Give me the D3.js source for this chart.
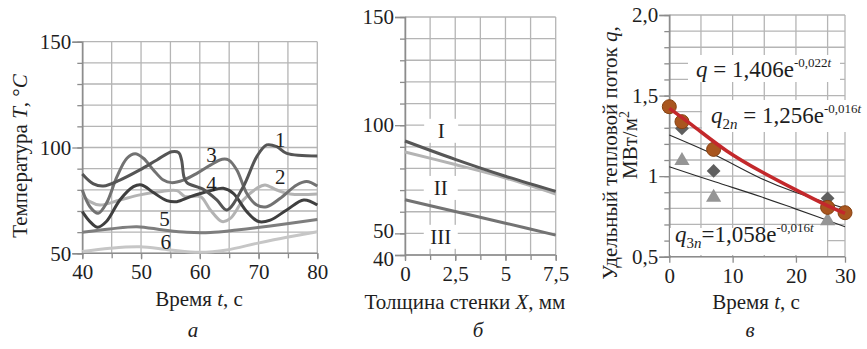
<!DOCTYPE html>
<html>
<head>
<meta charset="utf-8">
<script src="https://cdn.jsdelivr.net/npm/d3@7"></script>
<style>
  body { margin: 0; background: #fff; }
  svg text { font-family: "Liberation Serif", "Times New Roman", serif; fill: #1e1e1e; }
</style>
</head>
<body>
<svg id="chart" width="867" height="349"></svg>
<script>
// ---- panel а : temperature vs time, six curves ----
const line1 = [[40,87.5],[41.9,82.8],[43.6,81.8],[46.4,84.6],[49.8,89.4],[52.7,94.1],[55.2,98],[56.4,97.6],[56.9,94],[57.3,86.2],[57.8,83.4],[60.6,80.2],[62.9,75.2],[64.6,70.5],[67.4,81.5],[69.7,95.7],[71.4,101.2],[73.1,100.4],[74.8,97.2],[80,96]];
const line2 = [[40,77.6],[41.3,74.4],[43,72.8],[46.4,75.2],[49.8,77.6],[53.2,79.1],[56.1,79.6],[57.5,76.8],[60.1,76.8],[61.8,70.5],[63.8,65],[65.2,66.5],[67.4,75.2],[69.7,80.7],[71.1,82.3],[73.1,79.9],[75.4,78],[80,78]];
const line3 = [[40,79.9],[41.3,72],[42.7,68.9],[44.1,73.6],[45.9,86.2],[47.6,94.9],[49,97],[50.4,94.9],[52.1,89.4],[53.8,84.6],[55.2,83.4],[57.2,84.6],[59.5,87.8],[61.8,91.7],[63.8,94.4],[64.9,94.1],[66.3,89.4],[68,78.3],[69.7,72.8],[71.4,72],[73.7,76],[76.5,82.3],[78.2,83.9],[80,81.8]];
const line4 = [[40,69.7],[41.3,65],[42.6,62.3],[44.1,65],[46.4,75.2],[48.7,81.5],[50.1,82.3],[52.1,78.7],[54.4,74.9],[56.1,74.4],[58.4,76.8],[61.8,79.6],[64,80.7],[65.7,78.3],[68,69.7],[70,65],[72,65.7],[74.8,70.5],[77.7,75.2],[80,72.8]];
const line5 = [[40,59.9],[44.7,61.5],[49.3,62.6],[53.8,61],[57.8,59.9],[61.8,59.8],[66.3,61],[72,62.9],[80,66]];
const line6 = [[40,50.8],[44.7,52.4],[49.8,53.1],[54.9,51.6],[60,50.5],[64.6,51.6],[69.7,54.7],[74.8,57.6],[80,60.2]];
const labelsA = ['1', '2', '3', '4', '5', '6'];
const xTicksA = [40, 50, 60, 70, 80];
const yTicksA = [50, 100, 150];

// ---- panel б : temperature across wall ----
const wallX = [0, 2.5, 5, 7.5];
const tempI = [92.7, 84.2, 76.4, 69.4];
const tempII = [87.6, 81.8, 75.6, 68.2];
const tempIII = [65.5, 60.1, 54.7, 49.2];
const labelsB = ['I', 'II', 'III'];
const xTicksB = [0, 2.5, 5, 7.5];
const xTickTextB = ['0', '2,5', '5', '7,5'];
const yTicksB = [40, 50, 100, 150];

// ---- panel в : heat flux vs time ----
const measT = [0, 2, 7, 25, 30];
const measQ = [1.431, 1.338, 1.166, 0.806, 0.773];
const sideT = [2, 7, 25];
const diamondQ = [1.296, 1.032, 0.862];
const triangleQ = [1.096, 0.868, 0.723];
const fitT = [0, 4, 9, 14.5, 20, 25, 30];
const fitQ = [1.421, 1.307, 1.151, 1.027, 0.914, 0.814, 0.769];
const fitNT = [0, 7.2, 14.5, 19.7, 30];
const fit2Q = [1.255, 1.131, 0.986, 0.903, 0.80];
const fit3Q = [1.058, 0.965, 0.872, 0.80, 0.686];
const xTicksC = [0, 10, 20, 30];
const yTicksC = [0.5, 1, 1.5, 2.0];
const yTickTextC = ['0,5', '1', '1,5', '2,0'];

const svg = d3.select('#chart');
const FS = 21;
const gridColor = '#b5b5b5';
const axisColor = '#8c8c8c';

function grid(g, x, y, xs, ys) {
  const [yb, yt] = y.range();
  const [xl, xr] = [x.range()[0], x.range()[x.range().length - 1]];
  g.append('g').selectAll('line').data(xs).join('line')
    .attr('x1', d => x(d)).attr('x2', d => x(d)).attr('y1', yb).attr('y2', yt)
    .attr('stroke', gridColor).attr('stroke-width', 1.3);
  g.append('g').selectAll('line').data(ys).join('line')
    .attr('y1', d => y(d)).attr('y2', d => y(d)).attr('x1', xl).attr('x2', xr)
    .attr('stroke', gridColor).attr('stroke-width', 1.3);
}

function axes(g, x, y, o) {
  const [yb] = y.range();
  const xl = x.range()[0];
  // minor ticks
  g.append('g').attr('transform', `translate(0,${yb})`)
    .call(d3.axisBottom(x).tickValues(o.xMinor).tickSize(5).tickFormat(''))
    .call(s => s.select('.domain').remove());
  g.append('g').attr('transform', `translate(${xl},0)`)
    .call(d3.axisLeft(y).tickValues(o.yMinor).tickSize(5).tickFormat(''))
    .call(s => s.select('.domain').remove());
  // labelled
  g.append('g').attr('transform', `translate(0,${yb})`)
    .call(d3.axisBottom(x).tickValues(o.xTicks).tickSize(6).tickPadding(5).tickFormat(o.xFmt))
    .call(s => s.select('.domain').remove());
  g.append('g').attr('transform', `translate(${xl},0)`)
    .call(d3.axisLeft(y).tickValues(o.yTicks).tickSize(10).tickPadding(1).tickFormat(o.yFmt))
    .call(s => s.select('.domain').attr('stroke', axisColor).attr('stroke-width', 1.5));
  g.selectAll('.tick line').attr('stroke', axisColor).attr('stroke-width', 1.3);
  g.selectAll('.tick text').attr('font-size', FS).attr('font-family', null).attr('fill', '#1e1e1e');
  g.append('line').attr('x1', xl).attr('x2', x.range()[x.range().length - 1])
    .attr('y1', yb).attr('y2', yb).attr('stroke', axisColor).attr('stroke-width', 1.5);
}

function rich(g, x, y, parts, size) {
  const t = g.append('text').attr('x', x).attr('y', y).attr('font-size', size);
  parts.forEach(p => {
    const s = t.append('tspan').text(p.t);
    if (p.i) s.attr('font-style', 'italic');
    if (p.dy) s.attr('dy', p.dy);
    if (p.fs) s.attr('font-size', p.fs);
  });
  return t;
}

// ================= panel а =================
{
  const g = svg.append('g');
  const x = d3.scaleLinear().domain([40, 80]).range([82.3, 317.3]);
  const y = d3.scaleLinear().domain([50, 150]).range([253.3, 41.7]);
  grid(g, x, y, d3.range(40, 81, 5), d3.range(50, 151, 10));
  axes(g, x, y, {
    xMinor: d3.range(40, 81, 5), yMinor: d3.range(50, 151, 10),
    xTicks: xTicksA, yTicks: yTicksA, xFmt: d => d, yFmt: d => d
  });

  const series = [line6, line5, line2, line3, line4, line1];
  const colors = ['#c6c6c6', '#7e7e7e', '#b3b3b3', '#727272', '#3f3f3f', '#555555'];
  const line = d3.line().x(d => x(d[0])).y(d => y(d[1])).curve(d3.curveCatmullRom.alpha(0.5));
  g.append('g').selectAll('path').data(series).join('path')
    .attr('d', line).attr('fill', 'none')
    .attr('stroke', (d, i) => colors[i]).attr('stroke-width', 3);

  const labPos = [[73.7, 103.5], [73.7, 86.2], [62, 96.5], [62, 83], [54, 66.5], [54.2, 55.5]];
  g.append('g').selectAll('text').data(labelsA).join('text')
    .attr('x', (d, i) => x(labPos[i][0])).attr('y', (d, i) => y(labPos[i][1]))
    .attr('dy', '0.35em').attr('text-anchor', 'middle').attr('font-size', FS).text(d => d);

  rich(g, 0, 0, [{ t: 'Температура ' }, { t: 'T', i: true }, { t: ', °' }, { t: 'C', i: true }], FS)
    .attr('text-anchor', 'middle').attr('transform', 'translate(27,156) rotate(-90)');
  rich(g, 199, 306, [{ t: 'Время ' }, { t: 't', i: true }, { t: ', с' }], FS).attr('text-anchor', 'middle');
  g.append('text').attr('x', 193).attr('y', 337).attr('text-anchor', 'middle')
    .attr('font-size', FS).attr('font-style', 'italic').text('а');
}

// ================= panel б =================
{
  const g = svg.append('g');
  const x = d3.scaleLinear().domain([0, 7.5]).range([405, 555.7]);
  const y = d3.scaleLinear().domain([40, 150]).range([255, 17]);
  grid(g, x, y, d3.range(0, 7.6, 1.25), d3.range(40, 151, 10));
  axes(g, x, y, {
    xMinor: d3.range(0, 7.6, 1.25), yMinor: d3.range(40, 151, 10),
    xTicks: xTicksB, yTicks: yTicksB, xFmt: (d, i) => xTickTextB[i], yFmt: d => d
  });
  // the two lowest labels sit tight in the source; nudge them apart a little
  g.selectAll('.tick text').filter(d => d === 40).attr('dy', '0.5em');
  g.selectAll('.tick text').filter(d => d === 50).attr('dy', '0.2em');

  const series = [tempIII, tempII, tempI];
  const colors = ['#737373', '#b4b4b4', '#575757'];
  const line = d3.line().x((d, i) => x(wallX[i])).y(d => y(d)).curve(d3.curveCatmullRom);
  g.append('g').selectAll('path').data(series).join('path')
    .attr('d', line).attr('fill', 'none')
    .attr('stroke', (d, i) => colors[i]).attr('stroke-width', 3);

  const labPos = [[1.8, 97.4], [1.78, 71], [1.78, 48.4]];
  const lab = g.append('g').selectAll('g').data(labelsB).join('g')
    .attr('transform', (d, i) => `translate(${x(labPos[i][0])},${y(labPos[i][1])})`);
  lab.append('rect').attr('x', -17).attr('y', -12).attr('width', 34).attr('height', 24).attr('fill', '#fff');
  lab.append('text').attr('text-anchor', 'middle').attr('dy', '0.35em').attr('font-size', FS).text(d => d);

  rich(g, 465, 309, [{ t: 'Толщина стенки ' }, { t: 'X', i: true }, { t: ', мм' }], FS).attr('text-anchor', 'middle');
  g.append('text').attr('x', 478).attr('y', 337).attr('text-anchor', 'middle')
    .attr('font-size', FS).attr('font-style', 'italic').text('б');
}

// ================= panel в =================
{
  const g = svg.append('g');
  const x = d3.scaleLinear().domain([0, 25, 30]).range([669.3, 827.6, 845]);
  const y = d3.scaleLinear().domain([0.5, 2.0]).range([256.7, 15]);
  grid(g, x, y, d3.range(0, 31, 5), d3.range(5, 21, 1).map(d => d / 10));
  axes(g, x, y, {
    xMinor: [], yMinor: d3.range(5, 21, 1).map(d => d / 10),
    xTicks: xTicksC, yTicks: yTicksC, xFmt: d => d, yFmt: (d, i) => yTickTextC[i]
  });

  // annotation boxes
  const box1 = g.append('g');
  box1.append('rect').attr('x', 688).attr('y', 55).attr('width', 152).attr('height', 27).attr('fill', '#fff');
  rich(box1, 696, 77, [{ t: 'q', i: true }, { t: ' = 1,406e' }, { t: '-0,022', fs: 13, dy: -10 }, { t: 't', fs: 13, i: true }], 23);

  const box2 = g.append('g');
  box2.append('rect').attr('x', 702).attr('y', 100).attr('width', 165).attr('height', 32).attr('fill', '#fff');
  rich(box2, 711, 123, [{ t: 'q', i: true }, { t: '2', fs: 15, dy: 6 }, { t: 'n', fs: 15, i: true },
    { t: ' = 1,256e', dy: -6 }, { t: '-0,016', fs: 13, dy: -10 }, { t: 't', fs: 13, i: true }], 23);

  const box3 = g.append('g');
  box3.append('rect').attr('x', 670).attr('y', 228).attr('width', 157).attr('height', 27).attr('fill', '#fff');
  rich(box3, 675, 242, [{ t: 'q', i: true }, { t: '3', fs: 15, dy: 6 }, { t: 'n', fs: 15, i: true },
    { t: '=1,058e', dy: -6 }, { t: '-0,016', fs: 13, dy: -10 }, { t: 't', fs: 13, i: true }], 23);

  // thin fitted curves
  const thin = d3.line().x((d, i) => x(fitNT[i])).y(d => y(d)).curve(d3.curveCatmullRom);
  g.append('g').selectAll('path').data([fit2Q, fit3Q]).join('path')
    .attr('d', thin).attr('fill', 'none').attr('stroke', '#2b2b2b').attr('stroke-width', 1.1);

  // markers
  const tri = d3.symbol(d3.symbolTriangle, 100);
  g.append('g').selectAll('path').data(triangleQ).join('path')
    .attr('d', tri).attr('fill', '#959595')
    .attr('transform', (d, i) => `translate(${x(sideT[i])},${y(d)})`);
  const dia = d3.symbol(d3.symbolSquare, 95);
  g.append('g').selectAll('path').data(diamondQ).join('path')
    .attr('d', dia).attr('fill', '#5f5f5f')
    .attr('transform', (d, i) => `translate(${x(sideT[i])},${y(d)}) rotate(45)`);
  g.append('g').selectAll('circle').data(measQ).join('circle')
    .attr('cx', (d, i) => x(measT[i])).attr('cy', d => y(d)).attr('r', 7)
    .attr('fill', '#a9561f').attr('stroke', '#85400f').attr('stroke-width', 1);

  // main fit
  const red = d3.line().x((d, i) => x(fitT[i])).y(d => y(d)).curve(d3.curveBasis);
  g.append('path').datum(fitQ).attr('d', red).attr('fill', 'none')
    .attr('stroke', '#c3282b').attr('stroke-width', 3.5);

  rich(g, 0, 0, [{ t: 'Удельный тепловой поток ' }, { t: 'q', i: true }, { t: ',' }], FS)
    .attr('text-anchor', 'middle').attr('transform', 'translate(617,153) rotate(-90)');
  rich(g, 0, 0, [{ t: 'МВт/м' }, { t: '2', fs: 14, dy: -8 }], FS)
    .attr('text-anchor', 'middle').attr('transform', 'translate(637,145) rotate(-90)');
  rich(g, 756, 309, [{ t: 'Время ' }, { t: 't', i: true }, { t: ', с' }], FS).attr('text-anchor', 'middle');
  g.append('text').attr('x', 750).attr('y', 337).attr('text-anchor', 'middle')
    .attr('font-size', FS).attr('font-style', 'italic').text('в');
}
</script>
</body>
</html>
